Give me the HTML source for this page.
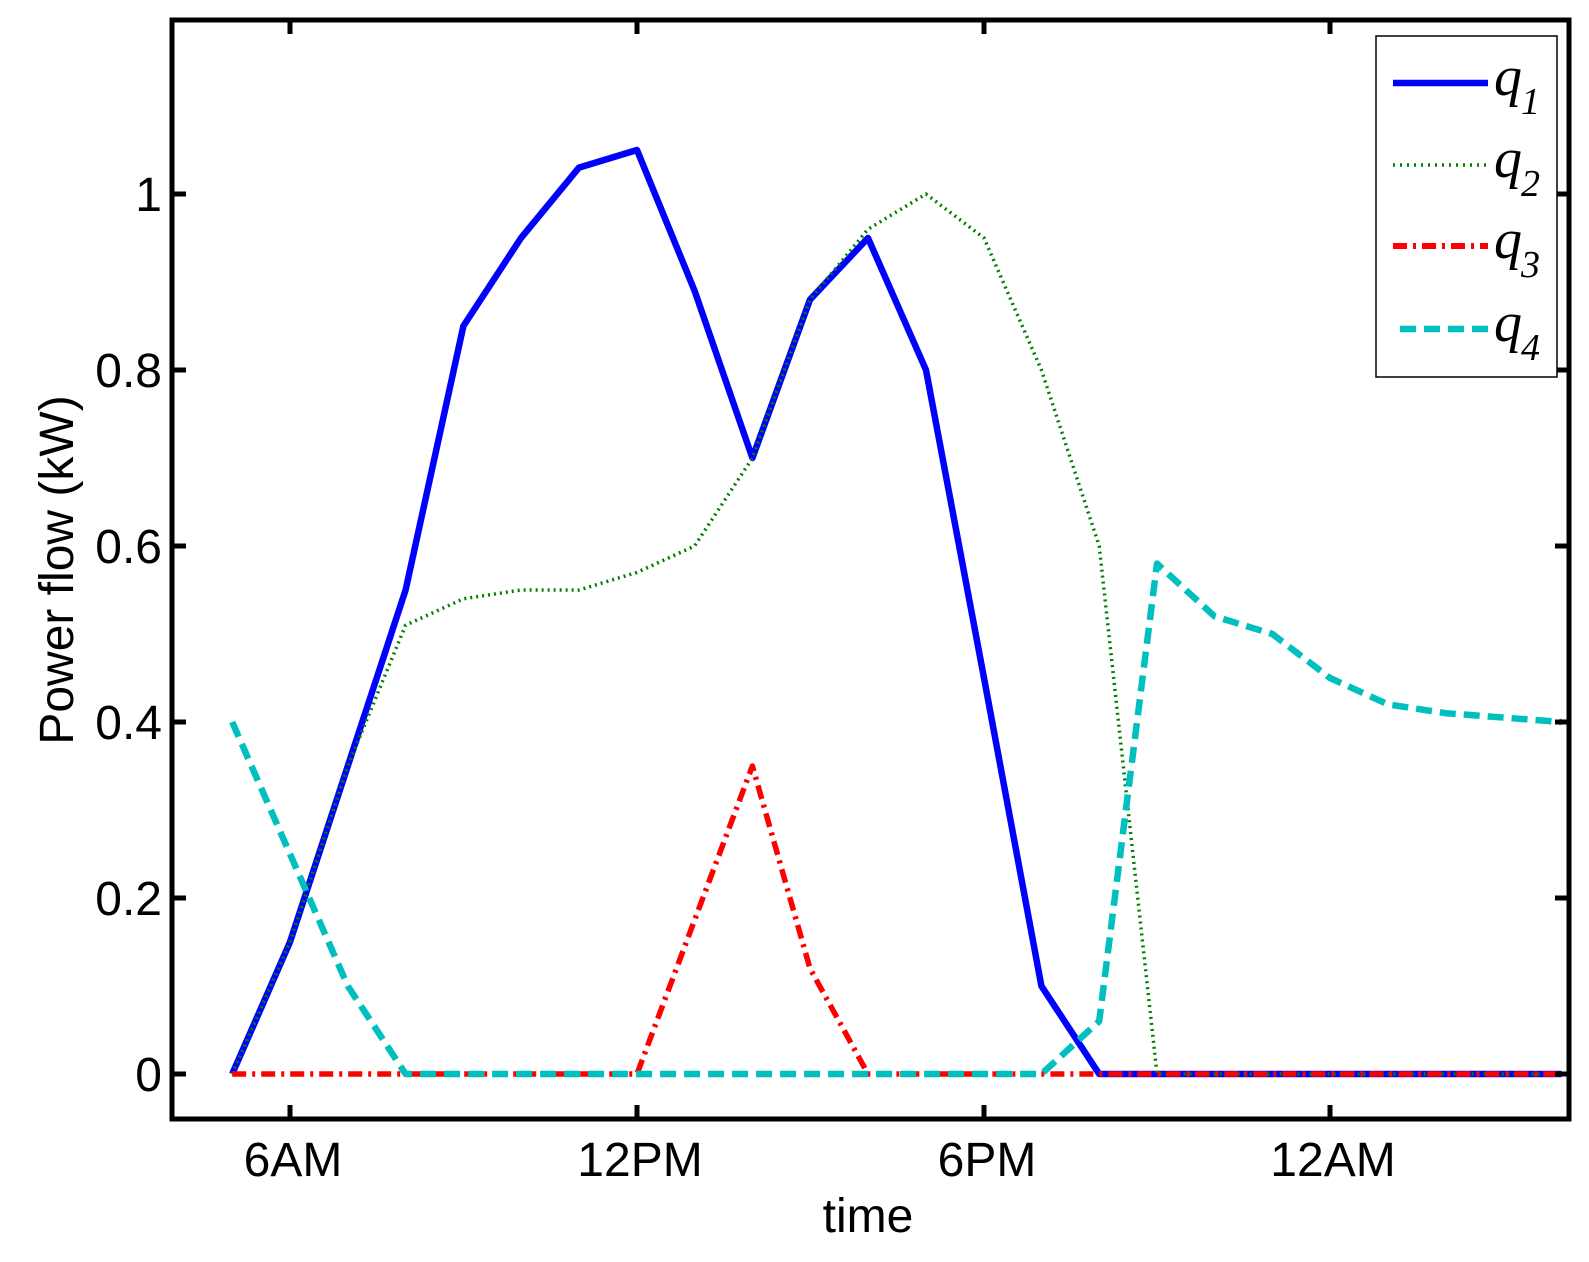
<!DOCTYPE html>
<html><head><meta charset="utf-8"><style>
html,body{margin:0;padding:0;background:#fff;}
svg{display:block;}
text{font-family:"Liberation Sans",Arial,sans-serif;fill:#000;}
</style></head><body>
<svg width="1589" height="1262" viewBox="0 0 1589 1262" xmlns="http://www.w3.org/2000/svg">
<rect width="1589" height="1262" fill="#fff"/>
<g fill="none" stroke-linejoin="round">
<polyline stroke="#0000ff" stroke-width="6.5" points="232.2,1074 290,942 347.8,766 405.6,590 463.4,326 521,238 579,167.6 637,150 694.6,290.8 752.4,458 810,299.6 868,238 926,370 984,678 1041.4,986 1099.2,1074 1157,1074 1214.6,1074 1272.4,1074 1330,1074 1388,1074 1446,1074 1504,1074 1561.6,1074"/>
<polyline stroke="#008000" stroke-width="3.5" stroke-dasharray="2,4" points="232.2,1074 290,942 347.8,766 405.6,625.2 463.4,598.8 521,590 579,590 637,572.4 694.6,546 752.4,458 810,299.6 868,229.2 926,194 984,238 1041.4,370 1099.2,546 1157,1074 1214.6,1074 1272.4,1074 1330,1074 1388,1074 1446,1074 1504,1074 1561.6,1074"/>
<polyline stroke="#ff0000" stroke-width="5.5" stroke-dasharray="14,6,3,6" points="232.2,1074 290,1074 347.8,1074 405.6,1074 463.4,1074 521,1074 579,1074 637,1074 694.6,920 752.4,766 810,968.4 868,1074 926,1074 984,1074 1041.4,1074 1099.2,1074 1157,1074 1214.6,1074 1272.4,1074 1330,1074 1388,1074 1446,1074 1504,1074 1561.6,1074"/>
<polyline stroke="#00bfbf" stroke-width="6.5" stroke-dasharray="16,8" points="232.2,722 290,854 347.8,986 405.6,1074 463.4,1074 521,1074 579,1074 637,1074 694.6,1074 752.4,1074 810,1074 868,1074 926,1074 984,1074 1041.4,1074 1099.2,1021.2 1157,563.6 1214.6,616.4 1272.4,634 1330,678 1388,704.4 1446,713.2 1504,717.6 1561.6,722"/>
</g>
<rect x="172" y="20" width="1397" height="1099" fill="none" stroke="#000" stroke-width="5"/>
<g stroke="#000" stroke-width="5">
<line x1="290" y1="1119" x2="290" y2="1105"/><line x1="637" y1="1119" x2="637" y2="1105"/><line x1="984" y1="1119" x2="984" y2="1105"/><line x1="1330" y1="1119" x2="1330" y2="1105"/>
<line x1="290" y1="20" x2="290" y2="34"/><line x1="637" y1="20" x2="637" y2="34"/><line x1="984" y1="20" x2="984" y2="34"/><line x1="1330" y1="20" x2="1330" y2="34"/>
<line x1="172" y1="1074" x2="186" y2="1074"/><line x1="172" y1="898" x2="186" y2="898"/><line x1="172" y1="722" x2="186" y2="722"/><line x1="172" y1="546" x2="186" y2="546"/><line x1="172" y1="370" x2="186" y2="370"/><line x1="172" y1="194" x2="186" y2="194"/>
<line x1="1569" y1="1074" x2="1555" y2="1074"/><line x1="1569" y1="898" x2="1555" y2="898"/><line x1="1569" y1="722" x2="1555" y2="722"/><line x1="1569" y1="546" x2="1555" y2="546"/><line x1="1569" y1="370" x2="1555" y2="370"/><line x1="1569" y1="194" x2="1555" y2="194"/>
</g>
<g font-size="48" text-anchor="end">
<text x="162" y="1091">0</text><text x="162" y="915">0.2</text><text x="162" y="739">0.4</text><text x="162" y="563">0.6</text><text x="162" y="387">0.8</text><text x="162" y="211">1</text>
</g>
<g font-size="48" text-anchor="middle">
<text x="293" y="1176">6AM</text><text x="640" y="1176">12PM</text><text x="987" y="1176">6PM</text><text x="1333" y="1176">12AM</text>
<text x="868" y="1232">time</text>
</g>
<text font-size="48" text-anchor="middle" transform="translate(73,570) rotate(-90)">Power flow (kW)</text>
<rect x="1376" y="36" width="181" height="341" fill="#fff" stroke="#000" stroke-width="1.5"/>
<g fill="none">
<line x1="1393" y1="83" x2="1488" y2="83" stroke="#0000ff" stroke-width="6.5"/>
<line x1="1393" y1="165" x2="1488" y2="165" stroke="#008000" stroke-width="3.5" stroke-dasharray="2,5"/>
<line x1="1393" y1="246" x2="1488" y2="246" stroke="#ff0000" stroke-width="6" stroke-dasharray="14,6,3,6"/>
<line x1="1400" y1="329" x2="1488" y2="329" stroke="#00bfbf" stroke-width="6.5" stroke-dasharray="16,8"/>
</g>
<g font-style="italic">
<text x="1494" y="95" font-size="56" style="font-family:'Liberation Serif',serif">q</text><text x="1521" y="114" font-size="38" style="font-family:'Liberation Serif',serif">1</text>
<text x="1494" y="177" font-size="56" style="font-family:'Liberation Serif',serif">q</text><text x="1521" y="196" font-size="38" style="font-family:'Liberation Serif',serif">2</text>
<text x="1494" y="258" font-size="56" style="font-family:'Liberation Serif',serif">q</text><text x="1521" y="277" font-size="38" style="font-family:'Liberation Serif',serif">3</text>
<text x="1494" y="341" font-size="56" style="font-family:'Liberation Serif',serif">q</text><text x="1521" y="360" font-size="38" style="font-family:'Liberation Serif',serif">4</text>
</g>
</svg>
</body></html>
